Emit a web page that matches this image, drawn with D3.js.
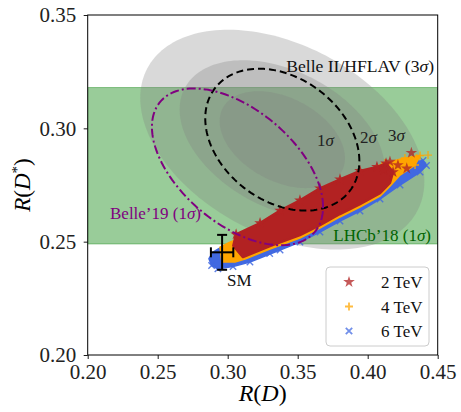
<!DOCTYPE html>
<html>
<head>
<meta charset="utf-8">
<script src="https://cdn.jsdelivr.net/npm/d3@7"></script>
<style>
  body { margin: 0; background: #fff; }
  text { font-family: "Liberation Serif", "DejaVu Serif", serif; }
</style>
</head>
<body>
<script>
var width = 461
var height = 412
var margin = { left: 87.7, right: 23.3, top: 15, bottom: 57 }
var innerWidth = width - margin.left - margin.right
var innerHeight = height - margin.top - margin.bottom

// axes
var xTicks = [0.20, 0.25, 0.30, 0.35, 0.40, 0.45]
var yTicks = [0.20, 0.25, 0.30, 0.35]

// LHCb'18 band in R(D*)
var lhcbBand = [0.249, 0.318]

// HFLAV filled contours (delta chi2 for 3, 2, 1 sigma)
var hflavCenter = [0.339, 0.295]
var hflavSigma = [0.0295, 0.0141]
var hflavRho = -0.38
var sigmaLevels = [11.83, 6.18, 2.30]
var sigmaLabels = ['1', '2', '3']
var sigmaLabelPos = [[0.3638, 0.2922], [0.3945, 0.2935], [0.4145, 0.2944]]

// Belle II/HFLAV 3 sigma (dashed)
var belle2Center = [0.339, 0.295]
var belle2Sigma = [0.016, 0.0091]
var belle2Rho = -0.3
var belle2Level = 11.83

// Belle'19 1 sigma (dash-dot)
var belle19Center = [0.307, 0.283]
var belle19Sigma = [0.0403, 0.0228]
var belle19Rho = -0.51
var belle19Level = 2.30

// SM
var smPoint = [0.296, 0.2453]
var smError = [0.008, 0.0077]

// scan regions (outline of the dense point clouds)
var blue6TeV = [[0.2866, 0.2425], [0.2895, 0.2454], [0.2945, 0.2472], [0.3016, 0.2490], [0.3088, 0.2507],
  [0.3516, 0.2662], [0.3945, 0.2794], [0.4231, 0.2838], [0.4395, 0.2858], [0.4420, 0.2836],
  [0.4374, 0.2807], [0.4231, 0.2750], [0.4088, 0.2688], [0.3945, 0.2635], [0.3802, 0.2591],
  [0.3659, 0.2542], [0.3516, 0.2498], [0.3374, 0.2463], [0.3159, 0.2410], [0.3038, 0.2390],
  [0.2930, 0.2380], [0.2885, 0.2395]]
var orange4TeV = [[0.2945, 0.2476], [0.3016, 0.2498], [0.3088, 0.2516], [0.3516, 0.2670], [0.3945, 0.2803],
  [0.4124, 0.2847], [0.4266, 0.2869], [0.4374, 0.2880], [0.4338, 0.2838], [0.4231, 0.2794],
  [0.4159, 0.2745], [0.4088, 0.2701], [0.3945, 0.2653], [0.3802, 0.2609], [0.3659, 0.2560],
  [0.3516, 0.2516], [0.3302, 0.2467], [0.3124, 0.2423], [0.3052, 0.2410], [0.2959, 0.2410]]
var red2TeV = [[0.3040, 0.2482], [0.3060, 0.2532], [0.3231, 0.2582], [0.3374, 0.2637], [0.3516, 0.2682],
  [0.3659, 0.2735], [0.3802, 0.2775], [0.3945, 0.2812], [0.4066, 0.2830], [0.4131, 0.2845],
  [0.4181, 0.2807], [0.4159, 0.2759], [0.4088, 0.2714], [0.3945, 0.2666], [0.3802, 0.2622],
  [0.3659, 0.2573], [0.3516, 0.2529], [0.3302, 0.2480], [0.3109, 0.2432]]

// isolated points at the edges
var blue6TeVExtra = [[0.4374, 0.2847], [0.4317, 0.2816], [0.4203, 0.2772], [0.4017, 0.2701], [0.3839, 0.2639], [0.3600, 0.2555], [0.3300, 0.2448]]
var orange4TeVExtra = [[0.4431, 0.2882], [0.4348, 0.2868], [0.4266, 0.2838], [0.4219, 0.2816], [0.4171, 0.2794]]
var red2TeVExtra = [[0.4312, 0.2892], [0.4159, 0.2853], [0.4279, 0.2823], [0.4216, 0.2838], [0.4116, 0.2816]]

var legendLabels = ['2 TeV', '4 TeV', '6 TeV']
var colors = { red: '#b22222', orange: '#ffa500', blue: '#4169e1' }

var svg = d3.select('body').append('svg').attr('width', width).attr('height', height)
svg.append('rect').attr('width', width).attr('height', height).attr('fill', '#fff')
var g = svg.append('g').attr('transform', `translate(${margin.left},${margin.top})`)

var x = d3.scaleLinear().domain([0.20, 0.45]).range([0, innerWidth])
var y = d3.scaleLinear().domain([0.20, 0.35]).range([innerHeight, 0])

g.append('clipPath').attr('id', 'clip').append('rect').attr('width', innerWidth).attr('height', innerHeight)
var plot = g.append('g').attr('clip-path', 'url(#clip)')

const ellipse = (c, s, rho, k) => {
  var r = Math.sqrt(k)
  return d3.range(0, 361, 2).map(a => {
    var t = a * Math.PI / 180
    return [c[0] + r * s[0] * Math.cos(t), c[1] + r * s[1] * (rho * Math.cos(t) + Math.sqrt(1 - rho * rho) * Math.sin(t))]
  })
}
var line = d3.line().x(d => x(d[0])).y(d => y(d[1]))

// green band
plot.append('rect')
  .attr('x', 0).attr('width', innerWidth)
  .attr('y', y(lhcbBand[1])).attr('height', y(lhcbBand[0]) - y(lhcbBand[1]))
  .attr('fill', 'green').attr('fill-opacity', 0.4)
  .attr('stroke', 'green').attr('stroke-opacity', 0.4).attr('stroke-width', 1)

// hflav filled contours
sigmaLevels.forEach(k => {
  plot.append('path').attr('d', line(ellipse(hflavCenter, hflavSigma, hflavRho, k)) + 'Z')
    .attr('fill', 'gray').attr('fill-opacity', 0.3)
})

// scan clouds
const cloud = (pts, color, sw) => {
  plot.append('path').attr('d', line(pts) + 'Z')
    .attr('fill', color).attr('stroke', color).attr('stroke-width', sw).attr('stroke-linejoin', 'round')
}
var plusPath = 'M-4,0H4M0,-4V4'
var crossPath = 'M-3.2,-3.2L3.2,3.2M-3.2,3.2L3.2,-3.2'
var starPath = d3.symbol(d3.symbolStar, 42)()
const markers = (pts, kind, color, op) => {
  var sel = plot.append('g').selectAll('path').data(pts).enter().append('path')
    .attr('transform', d => `translate(${x(d[0])},${y(d[1])})`)
  if (kind === 'star') sel.attr('d', starPath).attr('fill', color).attr('fill-opacity', op)
  else sel.attr('d', kind === 'plus' ? plusPath : crossPath).attr('fill', 'none')
    .attr('stroke', color).attr('stroke-width', 1.4).attr('stroke-opacity', op)
}
cloud(blue6TeV, colors.blue, 1.5)
markers(blue6TeV.slice(8), 'cross', colors.blue, 0.85)
markers(blue6TeVExtra, 'cross', colors.blue, 0.8)
cloud(orange4TeV, colors.orange, 1.5)
markers(orange4TeV.slice(3, 9), 'plus', colors.orange, 0.9)
markers(orange4TeVExtra, 'plus', colors.orange, 0.8)
cloud(red2TeV, colors.red, 2.5)
markers(red2TeV.slice(1, 11), 'star', colors.red, 0.9)
markers(red2TeVExtra, 'star', colors.red, 0.75)

// contour lines
plot.append('path').attr('d', line(ellipse(belle2Center, belle2Sigma, belle2Rho, belle2Level)) + 'Z')
  .attr('fill', 'none').attr('stroke', 'black').attr('stroke-width', 2).attr('stroke-dasharray', '7,4')
plot.append('path').attr('d', line(ellipse(belle19Center, belle19Sigma, belle19Rho, belle19Level)) + 'Z')
  .attr('fill', 'none').attr('stroke', 'purple').attr('stroke-width', 2).attr('stroke-dasharray', '9,3,2,3')

// SM point
var sm = g.append('g').attr('stroke', 'black').attr('stroke-width', 2)
sm.append('line').attr('x1', x(smPoint[0] - smError[0])).attr('x2', x(smPoint[0] + smError[0]))
  .attr('y1', y(smPoint[1])).attr('y2', y(smPoint[1]))
sm.append('line').attr('y1', y(smPoint[1] - smError[1])).attr('y2', y(smPoint[1] + smError[1]))
  .attr('x1', x(smPoint[0])).attr('x2', x(smPoint[0]))
;[-1, 1].forEach(s => {
  sm.append('line').attr('x1', x(smPoint[0] + s * smError[0])).attr('x2', x(smPoint[0] + s * smError[0]))
    .attr('y1', y(smPoint[1]) - 5).attr('y2', y(smPoint[1]) + 5)
  sm.append('line').attr('y1', y(smPoint[1] + s * smError[1])).attr('y2', y(smPoint[1] + s * smError[1]))
    .attr('x1', x(smPoint[0]) - 5).attr('x2', x(smPoint[0]) + 5)
})

// annotations
const label = (txt, px, py, color, anchor, fs) => {
  var t = g.append('text').attr('x', px).attr('y', py).attr('font-size', fs || 17).attr('fill', color)
    .attr('text-anchor', anchor || 'start')
  txt.forEach(p => t.append('tspan').attr('font-style', p[1] ? 'italic' : 'normal').text(p[0]))
  return t
}
label([['Belle II/HFLAV ('], ['3'], ['σ', 1], [')']], 434 - margin.left, 72 - margin.top, '#111', 'end', 17.6)
sigmaLabels.forEach((s, i) => label([[s], ['σ', 1]], x(sigmaLabelPos[i][0]), y(sigmaLabelPos[i][1]), '#222'))
label([['Belle’19 (1'], ['σ', 1], [')']], 110 - margin.left, 219 - margin.top, 'purple')
label([['LHCb’18 (1'], ['σ', 1], [')']], 431 - margin.left, 241 - margin.top, 'darkgreen', 'end')
label([['SM']], x(smPoint[0]) + 5, y(smPoint[1]) + 34, '#111')

// frame and axes
g.append('rect').attr('width', innerWidth).attr('height', innerHeight)
  .attr('fill', 'none').attr('stroke', 'black').attr('stroke-width', 1)
var xAxis = d3.axisBottom(x).tickValues(xTicks).tickFormat(d3.format('.2f')).tickSize(4).tickPadding(5)
var yAxis = d3.axisLeft(y).tickValues(yTicks).tickFormat(d3.format('.2f')).tickSize(4).tickPadding(7.5)
var gx = g.append('g').attr('transform', `translate(0,${innerHeight})`).call(xAxis)
var gy = g.append('g').call(yAxis)
;[gx, gy].forEach(a => {
  a.select('.domain').remove()
  a.selectAll('text').attr('font-size', 21).attr('fill', '#222').attr('font-family', '"Liberation Serif", serif')
  a.selectAll('line').attr('stroke', 'black').attr('stroke-width', 0.9)
})

// axis titles
var xl = svg.append('text').attr('x', margin.left + innerWidth / 2).attr('y', 401).attr('text-anchor', 'middle').attr('font-size', 24)
xl.append('tspan').attr('font-style', 'italic').text('R')
xl.append('tspan').text('(')
xl.append('tspan').attr('font-style', 'italic').text('D')
xl.append('tspan').text(')')
var yl = svg.append('text').attr('transform', 'translate(30,185) rotate(-90)').attr('text-anchor', 'middle').attr('font-size', 23)
yl.append('tspan').attr('font-style', 'italic').text('R')
yl.append('tspan').text('(')
yl.append('tspan').attr('font-style', 'italic').text('D')
yl.append('tspan').attr('font-size', 15).attr('dy', -8).text('*')
yl.append('tspan').attr('dy', 8).text(')')

// legend
var lg = svg.append('g').attr('transform', 'translate(326,267)')
lg.append('rect').attr('width', 103).attr('height', 79).attr('rx', 4)
  .attr('fill', '#fff').attr('fill-opacity', 0.8).attr('stroke', '#ccc').attr('stroke-width', 1)
var legendKinds = [['star', colors.red], ['plus', colors.orange], ['cross', colors.blue]]
legendLabels.forEach((s, i) => {
  var row = lg.append('g').attr('transform', `translate(0,${15 + i * 24.5})`)
  var k = legendKinds[i]
  var m = row.append('path').attr('transform', 'translate(23,0)')
  if (k[0] === 'star') m.attr('d', starPath).attr('fill', k[1]).attr('fill-opacity', 0.75)
  else m.attr('d', k[0] === 'plus' ? plusPath : crossPath).attr('fill', 'none').attr('stroke', k[1]).attr('stroke-width', 1.8).attr('stroke-opacity', 0.75)
  row.append('text').attr('x', 96.5).attr('y', 6).attr('text-anchor', 'end').attr('font-size', 17).attr('fill', '#111').text(s)
})
</script>
</body>
</html>
